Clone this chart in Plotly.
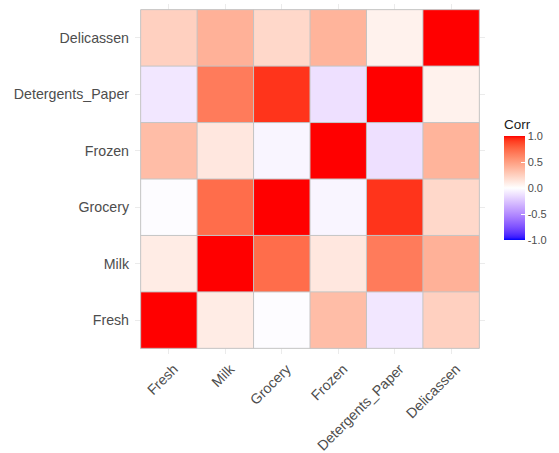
import numpy as np
import plotly.graph_objects as go

# Wholesale customers: spending categories and their pairwise Pearson correlations
variables = ["Fresh", "Milk", "Grocery", "Frozen", "Detergents_Paper", "Delicassen"]

corr_fresh = [1.000, 0.101, -0.012, 0.346, -0.102, 0.245]
corr_milk = [0.101, 1.000, 0.728, 0.124, 0.662, 0.406]
corr_grocery = [-0.012, 0.728, 1.000, -0.040, 0.925, 0.205]
corr_frozen = [0.346, 0.124, -0.040, 1.000, -0.132, 0.391]
corr_detergents = [-0.102, 0.662, 0.925, -0.132, 1.000, 0.069]
corr_delicassen = [0.245, 0.406, 0.205, 0.391, 0.069, 1.000]

corr = np.array([corr_fresh, corr_milk, corr_grocery, corr_frozen,
                 corr_detergents, corr_delicassen])


# --- diverging blue-white-red scale interpolated in CIELAB ---
def _srgb_to_lab(rgb):
    c = np.array(rgb) / 255.0
    c = np.where(c > 0.04045, ((c + 0.055) / 1.055) ** 2.4, c / 12.92)
    m = np.array([[0.4124564, 0.3575761, 0.1804375],
                  [0.2126729, 0.7151522, 0.0721750],
                  [0.0193339, 0.1191920, 0.9503041]])
    xyz = m @ c / np.array([0.95047, 1.0, 1.08883])
    f = np.where(xyz > 0.008856, np.cbrt(xyz), 7.787 * xyz + 16 / 116)
    return np.array([116 * f[1] - 16, 500 * (f[0] - f[1]), 200 * (f[1] - f[2])])


def _lab_to_srgb(lab):
    L, a, b = lab
    fy = (L + 16) / 116
    fx = fy + a / 500
    fz = fy - b / 200
    f = np.array([fx, fy, fz])
    xyz = np.where(f ** 3 > 0.008856, f ** 3, (f - 16 / 116) / 7.787)
    xyz = xyz * np.array([0.95047, 1.0, 1.08883])
    m = np.array([[3.2404542, -1.5371385, -0.4985314],
                  [-0.9692660, 1.8760108, 0.0415560],
                  [0.0556434, -0.2040259, 1.0572252]])
    c = m @ xyz
    c = np.clip(c, 0, 1)
    c = np.where(c > 0.0031308, 1.055 * c ** (1 / 2.4) - 0.055, 12.92 * c)
    c = np.clip(np.round(c * 255), 0, 255).astype(int)
    return f"rgb({c[0]},{c[1]},{c[2]})"


lab_low = _srgb_to_lab((0, 0, 255))
lab_mid = _srgb_to_lab((255, 255, 255))
lab_high = _srgb_to_lab((255, 0, 0))

colorscale = []
for t in np.linspace(0, 1, 41):
    v = 2 * t - 1
    if v < 0:
        lab = lab_mid + (lab_low - lab_mid) * (-v)
    else:
        lab = lab_mid + (lab_high - lab_mid) * v
    colorscale.append([float(t), _lab_to_srgb(lab)])

label_color = "#4d4d4d"
font_family = "Liberation Sans, Arial, sans-serif"

fig = go.Figure()
fig.add_trace(go.Heatmap(
    z=corr,
    x=variables,
    y=variables,
    zmin=-1, zmax=1,
    colorscale=colorscale,
    hovertemplate="%{x} / %{y}: %{z:.2f}<extra></extra>",
    colorbar=dict(
        title=dict(text="Corr", side="top", font=dict(size=13.5, color="#1a1a1a")),
        x=1.054, xanchor="left",
        y=0.502, yanchor="middle",
        len=124, lenmode="pixels",
        thickness=21, thicknessmode="pixels",
        outlinewidth=0, xpad=0, ypad=0,
        tickvals=[-1, -0.5, 0, 0.5, 1],
        ticktext=["-1.0", "-0.5", "0.0", "0.5", "1.0"],
        ticks="inside", ticklen=4, tickcolor="white",
        tickfont=dict(size=11, color=label_color),
    ),
))

# tile outlines
n = len(variables)
shapes = []
for k in range(n + 1):
    pos = k - 0.5
    shapes.append(dict(type="line", xref="x", yref="y", x0=pos, x1=pos,
                       y0=-0.5, y1=n - 0.5, line=dict(color="#c4c4c4", width=1)))
    shapes.append(dict(type="line", xref="x", yref="y", y0=pos, y1=pos,
                       x0=-0.5, x1=n - 0.5, line=dict(color="#c4c4c4", width=1)))

fig.update_layout(
    width=559, height=453,
    margin=dict(l=135, r=74, t=4, b=99, autoexpand=False),
    paper_bgcolor="white",
    plot_bgcolor="white",
    font=dict(family=font_family, color=label_color),
    shapes=shapes,
)
fig.update_xaxes(
    range=[-0.6, n - 0.4],
    tickangle=-45,
    tickfont=dict(size=14.2, color=label_color),
    ticklabelstandoff=3,
    ticklabelshift=5,
    showgrid=True, gridcolor="#ebebeb", gridwidth=1,
    zeroline=False, showline=False, ticks="",
)
fig.update_yaxes(
    range=[-0.6, n - 0.4],
    tickfont=dict(size=14.2, color=label_color),
    ticklabelstandoff=5,
    showgrid=True, gridcolor="#ebebeb", gridwidth=1,
    zeroline=False, showline=False, ticks="",
)

fig.write_html("out.html")
